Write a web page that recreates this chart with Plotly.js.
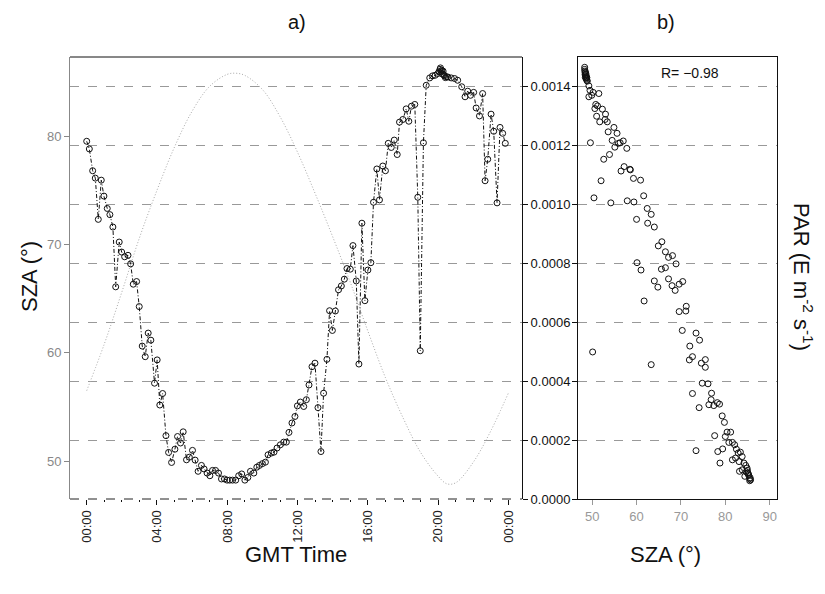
<!DOCTYPE html>
<html>
<head>
<meta charset="utf-8">
<script src="https://cdn.plot.ly/plotly-3.0.1.min.js"></script>
<style>html,body{margin:0;padding:0;background:#fff;}#chart{width:825px;height:594px;}</style>
</head>
<body>
<div id="chart"></div>
<script>
// SZA curve (left axis, panel a)
const curveHours = [0,1,2,3,4,5,6,7,8,8.5,9,10,11,12,13,14,15,16,17,18,19,20,20.5,21,22,23,24];
const curveSZA = [56.5,60.8,65.6,70.6,75.0,79.0,82.3,84.6,85.7,85.8,85.6,84.3,81.8,78.5,74.7,70.7,66.5,62.0,57.7,54.0,50.8,48.6,47.9,48.0,49.9,52.8,56.3];

// PAR time series (panel a), hours GMT and PAR in micro-units (x1e-6 E m-2 s-1)
const timeA = [0.00,0.15,0.34,0.49,0.66,0.83,0.98,1.17,1.32,1.49,1.65,1.85,1.99,2.16,2.35,2.50,2.65,2.84,2.99,3.16,3.33,3.50,3.65,3.86,4.01,4.16,4.32,4.51,4.66,4.83,5.02,5.17,5.34,5.49,5.68,5.84,6.02,6.17,6.34,6.53,6.68,6.85,7.01,7.16,7.33,7.50,7.67,7.84,7.99,8.14,8.30,8.48,8.65,8.82,9.00,9.17,9.32,9.51,9.68,9.83,10.00,10.17,10.32,10.51,10.66,10.83,11.02,11.21,11.36,11.51,11.68,11.85,11.99,12.16,12.35,12.50,12.65,12.82,12.99,13.16,13.33,13.48,13.67,13.82,13.98,14.15,14.33,14.49,14.66,14.81,15.00,15.15,15.34,15.49,15.66,15.83,16.00,16.17,16.32,16.51,16.66,16.85,17.00,17.16,17.33,17.50,17.67,17.80,17.99,18.18,18.33,18.48,18.67,18.84,18.98,19.16,19.32,19.52,19.68,19.83,19.98,20.05,20.10,20.13,20.17,20.20,20.24,20.28,20.32,20.36,20.41,20.47,20.55,20.74,20.93,21.11,21.34,21.53,21.68,21.84,22.02,22.16,22.35,22.53,22.67,22.82,23.01,23.16,23.35,23.52,23.67,23.82];
const parA = [1214,1188,1114,1089,949,1082,1028,986,965,923,720,872,838,822,827,798,729,738,653,519,483,563,539,393,472,319,358,215,158,124,169,212,190,228,133,142,165,132,94,114,102,88,79,97,97,88,68,68,64,64,64,64,79,85,64,73,94,88,108,114,120,125,150,156,159,173,184,193,193,226,258,280,316,329,314,337,387,449,461,310,161,359,474,639,572,638,710,723,746,782,780,860,740,458,936,673,777,802,1007,1120,1015,1130,1114,1207,1193,1218,1169,1279,1288,1324,1282,1333,1339,1024,503,1209,1404,1429,1436,1438,1444,1450,1458,1463,1450,1455,1442,1452,1440,1436,1430,1433,1432,1429,1427,1421,1399,1365,1384,1370,1380,1327,1300,1376,1080,1153,1306,1248,1005,1261,1241,1207];

// PAR vs SZA (panel b), SZA in degrees and PAR in micro-units
const szaB = [48.3,48.3,48.35,48.4,48.4,48.5,48.45,48.6,48.7,48.8,48.6,48.9,48.7,48.5,48.8,49.25,49.5,50.2,51.5,49.25,49.9,50.8,51.2,50.6,52.3,53.0,51.0,52.9,51.7,53.4,54.9,53.6,55.6,54.5,49.6,55.9,56.3,57.0,55.1,57.8,53.9,52.6,57.2,56.5,58.5,58.6,59.3,60.9,52.0,50.4,54.2,57.9,59.4,61.6,62.4,63.3,60.0,62.5,64.0,65.7,64.9,66.5,68.1,67.2,68.9,60.1,61.0,66.5,65.6,67.2,64.0,64.8,68.0,68.7,69.6,70.4,61.7,71.2,71.1,69.6,70.3,73.4,74.2,72.0,72.6,71.9,75.5,74.6,75.5,50.1,63.3,74.8,76.1,72.6,76.9,76.8,78.2,76.3,77.4,78.7,74.1,79.3,79.8,80.4,81.2,77.6,80.0,80.8,81.6,82.1,82.5,82.9,83.4,73.4,78.3,79.4,81.6,82.3,83.8,83.1,78.8,84.2,84.6,83.2,83.8,84.9,84.4,85.1,85.3,85.5,85.7,85.5,85.6,85.2,84.7,85.0];
const parB = [1465,1458,1452,1446,1440,1436,1431,1428,1425,1421,1442,1418,1433,1448,1430,1402,1387,1380,1376,1365,1370,1339,1334,1325,1323,1306,1299,1288,1280,1280,1261,1246,1241,1217,1209,1207,1209,1215,1194,1190,1169,1153,1128,1113,1119,1117,1088,1082,1080,1022,1005,1012,1008,1029,986,966,949,936,923,873,859,839,826,820,798,802,777,785,780,747,740,719,724,708,729,738,672,654,638,636,572,563,539,519,483,472,473,461,447,499,456,393,391,358,359,337,327,320,317,322,310,282,260,227,227,215,212,192,192,184,169,156,159,164,161,170,133,139,144,127,122,122,114,94,99,105,77,88,80,69,65,62,72,84,92,97];

const parTicks = [0,0.0002,0.0004,0.0006,0.0008,0.0010,0.0012,0.0014];
const hourTicks = [0,4,8,12,16,20,24];
const hourLabels = ['00:00','04:00','08:00','12:00','16:00','20:00','00:00'];
const szaTicksA = [50,60,70,80];
const szaTicksB = [50,60,70,80,90];
const rText = 'R= \u22120.98';

const toPar = v => v.map(p => p * 1e-6);

const FONT = 'Liberation Sans, Arial, Helvetica, sans-serif';
const W = 825, H = 594;
const px = x => x / W, py = y => 1 - y / H;

const traces = [
  {x: curveHours, y: curveSZA, xaxis: 'x', yaxis: 'y', mode: 'lines',
   line: {color: '#a8a8a8', width: 1, dash: '1px,2px', shape: 'spline'}, hoverinfo: 'skip'},
  {x: timeA, y: toPar(parA), xaxis: 'x', yaxis: 'y2', mode: 'lines+markers',
   line: {color: '#111', width: 1, dash: '4px,2px,1px,2px'},
   marker: {symbol: 'circle-open', size: 6, color: '#111', line: {width: 1, color: '#111'}}},
  {x: szaB, y: toPar(parB), xaxis: 'x2', yaxis: 'y3', mode: 'markers',
   marker: {symbol: 'circle-open', size: 6, color: '#111', line: {width: 1, color: '#111'}}}
];

const yDom = [py(499), py(57)];
const layout = {
  width: W, height: H,
  margin: {l: 0, r: 0, t: 0, b: 0},
  paper_bgcolor: '#fff', plot_bgcolor: '#fff',
  showlegend: false,
  font: {family: FONT, size: 13, color: '#111'},
  xaxis: {
    domain: [px(70), px(522)], range: [-0.95, 24.77], anchor: 'y2',
    tickmode: 'array', tickvals: hourTicks, ticktext: hourLabels, tickangle: -90,
    ticks: 'outside', ticklen: 5, tickcolor: '#111', tickwidth: 1,
    minor: {tickmode: 'linear', tick0: 0, dtick: 1, ticks: 'outside', ticklen: 2, tickcolor: '#111'},
    showgrid: false, zeroline: false, showline: false,
    tickfont: {family: FONT, size: 13, color: '#222'}
  },
  yaxis: {
    domain: yDom, range: [46.5, 87.3], anchor: 'x',
    tickmode: 'array', tickvals: szaTicksA,
    ticks: 'outside', ticklen: 5, tickcolor: '#888',
    showline: true, linecolor: '#888', linewidth: 1,
    showgrid: false, zeroline: false,
    tickfont: {family: FONT, size: 13, color: '#888'}
  },
  yaxis2: {
    overlaying: 'y', side: 'right', anchor: 'x', range: [0, 0.0015],
    tickmode: 'array', tickvals: parTicks, tickformat: '.4f',
    ticks: 'outside', ticklen: 5, tickcolor: '#111',
    showline: true, linecolor: '#111', linewidth: 1,
    showgrid: true, gridcolor: '#999', griddash: 'dash', gridwidth: 1, zeroline: false,
    tickfont: {family: FONT, size: 13, color: '#111'}
  },
  xaxis2: {
    domain: [px(578), px(777)], range: [46.8, 91.65], anchor: 'y3',
    tickmode: 'array', tickvals: szaTicksB,
    ticks: 'outside', ticklen: 5, tickcolor: '#999',
    showline: true, mirror: true, linecolor: '#111', linewidth: 1,
    showgrid: false, zeroline: false,
    tickfont: {family: FONT, size: 13, color: '#999'}
  },
  yaxis3: {
    domain: yDom, range: [0, 0.0015], anchor: 'x2',
    tickmode: 'array', tickvals: parTicks, showticklabels: false,
    ticks: 'outside', ticklen: 5, tickcolor: '#111',
    showline: true, mirror: true, linecolor: '#111', linewidth: 1,
    showgrid: true, gridcolor: '#999', griddash: 'dash', gridwidth: 1, zeroline: false
  },
  shapes: [
    {type: 'line', xref: 'x domain', yref: 'y domain', x0: 0, x1: 1, y0: 1, y1: 1,
     line: {color: '#111', width: 1}},
    {type: 'line', xref: 'x domain', yref: 'y domain', x0: 0, x1: 1, y0: 0, y1: 0,
     line: {color: '#222', width: 1, dash: 'dash'}}
  ],
  annotations: [
    {text: 'a)', x: px(297), y: py(22), xref: 'paper', yref: 'paper', showarrow: false,
     xanchor: 'center', yanchor: 'middle', font: {family: FONT, size: 20, color: '#111'}},
    {text: 'b)', x: px(666), y: py(22), xref: 'paper', yref: 'paper', showarrow: false,
     xanchor: 'center', yanchor: 'middle', font: {family: FONT, size: 20, color: '#111'}},
    {text: 'SZA (°)', x: px(30), y: py(277), xref: 'paper', yref: 'paper', showarrow: false,
     textangle: -90, xanchor: 'center', yanchor: 'middle', font: {family: FONT, size: 22, color: '#111'}},
    {text: 'GMT Time', x: px(296), y: py(554), xref: 'paper', yref: 'paper', showarrow: false,
     xanchor: 'center', yanchor: 'middle', font: {family: FONT, size: 22, color: '#111'}},
    {text: 'SZA (°)', x: px(665), y: py(554), xref: 'paper', yref: 'paper', showarrow: false,
     xanchor: 'center', yanchor: 'middle', font: {family: FONT, size: 22, color: '#111'}},
    {text: 'PAR (E m<sup>-2</sup> s<sup>-1</sup>)', x: px(803), y: py(277), xref: 'paper', yref: 'paper', showarrow: false,
     textangle: 90, xanchor: 'center', yanchor: 'middle', font: {family: FONT, size: 22, color: '#111'}},
    {text: rText, x: px(690), y: py(73), xref: 'paper', yref: 'paper', showarrow: false,
     xanchor: 'center', yanchor: 'middle', font: {family: FONT, size: 14, color: '#111'}}
  ]
};

Plotly.newPlot('chart', traces, layout, {staticPlot: true, displayModeBar: false});
</script>
</body>
</html>
